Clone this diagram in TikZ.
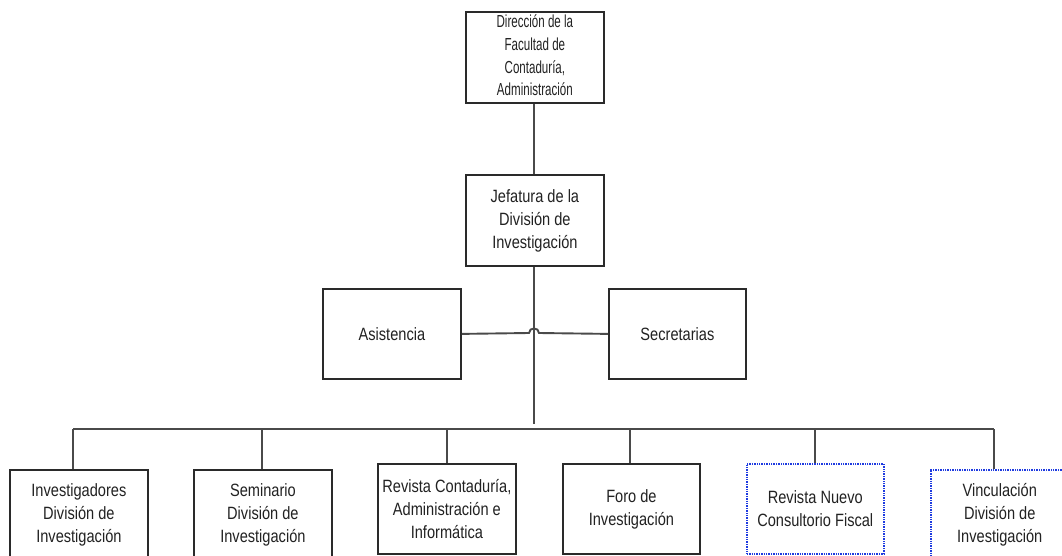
\documentclass[tikz,border=0pt]{standalone}
\usepackage{fontspec}
\setmainfont{Liberation Sans}
\newfontfamily\narf[FakeStretch=0.82]{Liberation Sans}
\newfontfamily\narc[FakeStretch=0.665]{Liberation Sans}
\definecolor{boxc}{HTML}{2A2A2A}
\definecolor{linec}{HTML}{4A4A4A}
\definecolor{txt}{HTML}{222222}
\definecolor{dotc}{HTML}{1E3BE0}
\begin{document}
\begin{tikzpicture}[x=1pt,y=-1pt,
  box/.style={draw=boxc, line width=1.8pt, minimum width=138pt, minimum height=90pt,
    inner sep=0pt, align=center, text=txt, anchor=north west,
    font=\narf\fontsize{17.8}{23}\selectfont},
  dotbox/.style={box, draw=dotc, line width=1.5pt, dash pattern=on 1.4pt off 1pt},
  plain/.style={inner sep=0pt, align=center, text=txt},
  conn/.style={draw=linec, line width=1.9pt}]
\useasboundingbox (0,0) rectangle (1062,556);
\clip (0,0) rectangle (1062,556);
\fill[white] (0,0) rectangle (1062,556);

\node[box, minimum height=91pt] (dir) at (465,11) {};
\node[plain, font=\narc\fontsize{17.4}{22.6}\selectfont] (dirt) at ([yshift=2pt]dir.center)
  {Dirección de la\\Facultad de\\Contaduría,\\Administración};
\node[box, minimum height=91pt] (jef) at (465,174)
  {Jefatura de la\\División de\\Investigación};
\node[box] (asis) at (322,288) {Asistencia};
\node[box, minimum width=137pt] (secr) at (608,288) {Secretarias};

\node[box] (inv) at (9,469)
  {Investigadores\\División de\\Investigación};
\node[box] (sem) at (193,469)
  {Seminario\\División de\\Investigación};
\node[box] (rev) at (377,463)
  {Revista Contaduría,\\Administración e\\Informática};
\node[box, minimum width=137pt] (foro) at (562,463)
  {Foro de\\Investigación};
\node[dotbox, minimum width=137pt] (rnc) at (746,463)
  {Revista Nuevo\\Consultorio Fiscal};
\node[dotbox] (vin) at (930,469)
  {Vinculación\\División de\\Investigación};

\coordinate (jb) at (534,424);
\coordinate (b1) at (73,429);
\coordinate (b2) at (262,429);
\coordinate (b3) at (447,429);
\coordinate (b4) at (630,429);
\coordinate (b5) at (815,429);
\coordinate (b6) at (994,429);
\coordinate (h1) at (529,333);
\coordinate (h2) at (539,333);

\path[conn] (dir.south -| jb) -- (jef.north -| jb);
\path[conn] (jef.south -| jb) -- (jb);
\path[conn] (asis.east) -- (h1) .. controls (529,327) and (539,327) .. (h2) -- (secr.west);
\path[conn] (b1) -- (b6);
\path[conn] (b1) -- (b1 |- inv.north);
\path[conn] (b2) -- (b2 |- sem.north);
\path[conn] (b3) -- (b3 |- rev.north);
\path[conn] (b4) -- (b4 |- foro.north);
\path[conn] (b5) -- (b5 |- rnc.north);
\path[conn] (b6) -- (b6 |- vin.north);
\end{tikzpicture}
\end{document}
